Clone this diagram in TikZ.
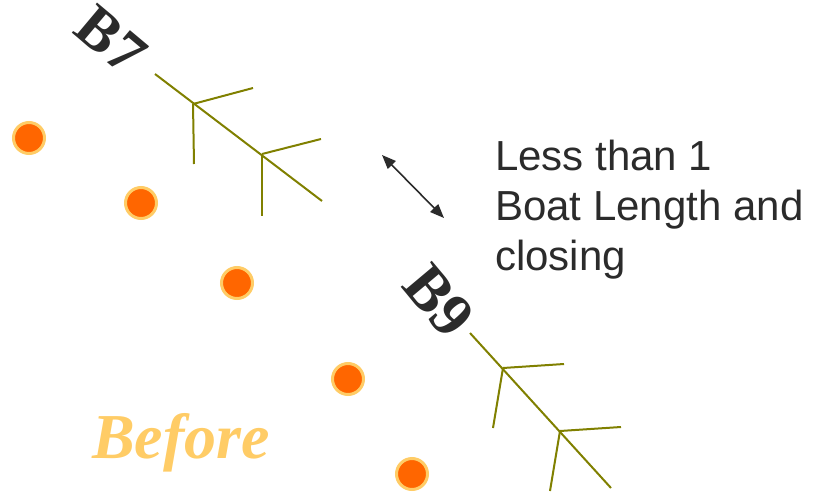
\documentclass[tikz,border=0pt]{standalone}
\usepackage{fontspec}
\setmainfont{Liberation Serif}
\newfontfamily\arialfont{Liberation Sans}
\usetikzlibrary{arrows.meta}
\definecolor{boatcol}{HTML}{808000}
\definecolor{dotfill}{HTML}{FF6600}
\definecolor{dotrim}{HTML}{FFCC66}
\definecolor{txtcol}{HTML}{2B2B2B}
\tikzset{
  boat/.style={draw=boatcol, line width=2pt},
  buoy/.style={circle, fill=dotfill, draw=dotrim, line width=3pt, minimum size=31pt, inner sep=0pt},
  boatlabel/.style={font=\fontsize{60}{60}\selectfont\bfseries, text=txtcol, inner sep=0pt},
  gap/.style={{Triangle[length=14pt,width=11pt]}-{Triangle[length=14pt,width=11pt]}, line width=1.6pt, draw=txtcol},
}
\begin{document}
\begin{tikzpicture}[x=1pt,y=-1pt]
\useasboundingbox (0,0) rectangle (825,498);
% buoys
\node[buoy] (d1) at (29,138) {};
\node[buoy] (d2) at (141,203) {};
\node[buoy] (d3) at (237,283) {};
\node[buoy] (d4) at (348,379) {};
\node[buoy] (d5) at (412,474) {};
% boat B7
\draw[boat] (155,74) -- (322,201);
\draw[boat] (193,104) -- (253,88);
\draw[boat] (193,104) -- (194,164);
\draw[boat] (262,154) -- (321,139);
\draw[boat] (262,154) -- (262,216);
% boat B9
\draw[boat] (470,333) -- (611,488);
\draw[boat] (503,368) -- (564,364);
\draw[boat] (503,368) -- (493,428);
\draw[boat] (560,431) -- (621,427);
\draw[boat] (560,431) -- (550,491);
% labels
\node[boatlabel, rotate=-40] (b7) at (111,40) {B7};
\node[boatlabel, rotate=-50, font=\fontsize{62}{62}\selectfont\bfseries] (b9) at (439,301) {B9};
% arrow
\coordinate (a1) at (382,155);
\coordinate (a2) at (444,218);
\draw[gap] (a1) -- (a2);
% text
\node[anchor=base west, align=left, inner sep=0pt, text=txtcol,
      font=\arialfont\fontsize{42}{50}\selectfont] (txt) at (495,270.5)
  {Less than 1\\Boat Length and\\closing};
\node[anchor=base west, inner sep=0pt, text=dotrim,
      font=\fontsize{64}{64}\selectfont\bfseries\itshape] (bef) at (92,458) {Before};
\end{tikzpicture}
\end{document}
